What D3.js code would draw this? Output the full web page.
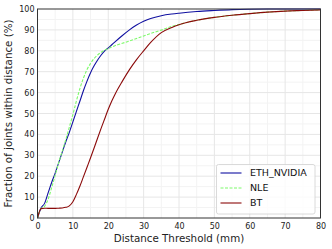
<!DOCTYPE html>
<html>
<head>
<meta charset="utf-8">
<script src="https://cdn.jsdelivr.net/npm/d3@7"></script>
<style>
  body { margin: 0; background: #fff; }
  svg { font-family: "DejaVu Sans", sans-serif; }
</style>
</head>
<body>
<div class="canvas"></div>
<script>
const distances = [0, 1, 2, 3, 4, 5, 6, 7, 8, 9, 10, 11, 12, 13, 14, 15, 16, 17, 18, 19, 20, 21, 22, 24, 26, 28, 30, 32, 35, 38, 40, 45, 50, 55, 60, 65, 70, 75, 80];
const ethNvidia = [0, 4.8, 7, 12, 17, 21.5, 26.5, 31.5, 36.5, 41, 46, 51, 56, 61, 65.5, 69.5, 72.8, 75.6, 78, 80, 81.4, 82.9, 84.4, 87.3, 90, 92.3, 94.1, 95.5, 96.8, 97.6, 98, 98.8, 99.3, 99.7, 99.9, 100, 100, 100, 100];
const nle = [0, 4.5, 5.6, 9, 14.5, 20.5, 26.5, 32, 37.5, 43.5, 49.5, 56, 62, 67, 71, 74, 76.3, 78, 79.3, 80.3, 81.1, 81.8, 82.5, 83.6, 84.7, 85.9, 87.1, 88.3, 89.9, 91.7, 92.6, 94.6, 96, 97, 97.8, 98.5, 99, 99.3, 99.6];
const bt = [0, 4.5, 4.7, 4.6, 4.6, 4.6, 4.7, 4.8, 5.1, 5.8, 7.8, 11.3, 15.3, 19.8, 24.3, 28.8, 33.5, 38.3, 43, 47.5, 52, 56, 59.5, 65.5, 71, 75.8, 80, 84, 88.7, 91.2, 92.5, 94.6, 96, 97, 97.8, 98.5, 99, 99.3, 99.6];
const seriesNames = ["ETH_NVIDIA", "NLE", "BT"];
const xTicks = [0, 10, 20, 30, 40, 50, 60, 70, 80];
const yTicks = [0, 10, 20, 30, 40, 50, 60, 70, 80, 90, 100];

const dims = { width: 332, height: 249 };
const margin = { left: 37.5, right: 11.5, top: 9, bottom: 31 };
const inner = {
	w: dims.width - margin.left - margin.right,
	h: dims.height - margin.top - margin.bottom,
};

const svg = d3
	.select(".canvas")
	.append("svg")
	.attr("width", dims.width)
	.attr("height", dims.height);
const graph = svg
	.append("g")
	.attr("transform", `translate(${margin.left}, ${margin.top})`);

const x = d3.scaleLinear().domain([0, 80]).range([0, inner.w]);
const y = d3.scaleLinear().domain([0, 100]).range([inner.h, 0]);

// grid: minor every 5, major every 10
const minorX = d3.range(5, 80, 10);
const minorY = d3.range(5, 100, 10);
graph.append("g")
	.selectAll("line")
	.data(minorX)
	.join("line")
	.attr("x1", (d) => x(d)).attr("x2", (d) => x(d))
	.attr("y1", 0).attr("y2", inner.h)
	.attr("stroke", "#f3f3f3").attr("stroke-width", 1);
graph.append("g")
	.selectAll("line")
	.data(minorY)
	.join("line")
	.attr("y1", (d) => y(d)).attr("y2", (d) => y(d))
	.attr("x1", 0).attr("x2", inner.w)
	.attr("stroke", "#f3f3f3").attr("stroke-width", 1);
graph.append("g")
	.selectAll("line")
	.data(xTicks.slice(1, -1))
	.join("line")
	.attr("x1", (d) => x(d)).attr("x2", (d) => x(d))
	.attr("y1", 0).attr("y2", inner.h)
	.attr("stroke", "#e6e6e6").attr("stroke-width", 1);
graph.append("g")
	.selectAll("line")
	.data(yTicks.slice(1, -1))
	.join("line")
	.attr("y1", (d) => y(d)).attr("y2", (d) => y(d))
	.attr("x1", 0).attr("x2", inner.w)
	.attr("stroke", "#e6e6e6").attr("stroke-width", 1);

// axes (labels only, no tick marks)
const xAxis = graph.append("g")
	.attr("transform", `translate(0, ${inner.h})`)
	.call(d3.axisBottom(x).tickValues(xTicks).tickSize(0).tickPadding(5));
const yAxis = graph.append("g")
	.call(d3.axisLeft(y).tickValues(yTicks).tickSize(0).tickPadding(3));
[xAxis, yAxis].forEach((a) => {
	a.select(".domain").remove();
	a.selectAll("text")
		.attr("font-family", "DejaVu Sans")
		.attr("font-size", 8)
		.attr("fill", "#222");
});

const line = d3
	.line()
	.x((d) => x(d[0]))
	.y((d) => y(d[1]))
	.curve(d3.curveMonotoneX);

const series = [
	{ name: seriesNames[0], values: ethNvidia, color: "#1010a0", dash: null },
	{ name: seriesNames[1], values: nle, color: "#7dfa6a", dash: "3,1.5" },
	{ name: seriesNames[2], values: bt, color: "#8b0a0a", dash: null },
];

graph.append("g")
	.selectAll("path")
	.data(series)
	.join("path")
	.attr("d", (s) => line(distances.map((d, i) => [d, s.values[i]])))
	.attr("fill", "none")
	.attr("stroke", (s) => s.color)
	.attr("stroke-width", 1.1)
	.attr("stroke-dasharray", (s) => s.dash);

// frame
graph.append("rect")
	.attr("width", inner.w)
	.attr("height", inner.h)
	.attr("fill", "none")
	.attr("stroke", "#333")
	.attr("stroke-width", 1);

// axis titles
svg.append("text")
	.attr("x", margin.left + inner.w / 2)
	.attr("y", 241.5)
	.attr("text-anchor", "middle")
	.attr("font-size", 10.3)
	.attr("fill", "#222")
	.text("Distance Threshold (mm)");
svg.append("text")
	.attr("transform", `translate(12, ${margin.top + inner.h / 2}) rotate(-90)`)
	.attr("text-anchor", "middle")
	.attr("font-size", 10.3)
	.attr("fill", "#222")
	.text("Fraction of joints within distance (%)");

// legend
const legendGroup = svg.append("g").attr("transform", "translate(216.5, 164.5)");
legendGroup.append("rect")
	.attr("width", 98.5)
	.attr("height", 49.5)
	.attr("rx", 2)
	.attr("fill", "#fff")
	.attr("fill-opacity", 0.8)
	.attr("stroke", "#d0d0d0")
	.attr("stroke-width", 0.8);
const items = legendGroup.selectAll("g")
	.data(series)
	.join("g")
	.attr("transform", (d, i) => `translate(0, ${8.5 + i * 15})`);
items.append("line")
	.attr("x1", 4).attr("x2", 25)
	.attr("stroke", (s) => s.color)
	.attr("stroke-width", 1.1)
	.attr("stroke-dasharray", (s) => s.dash);
items.append("text")
	.attr("x", 33.5)
	.attr("dy", "0.35em")
	.attr("font-size", 9.5)
	.attr("fill", "#111")
	.text((s) => s.name);
</script>
</body>
</html>
